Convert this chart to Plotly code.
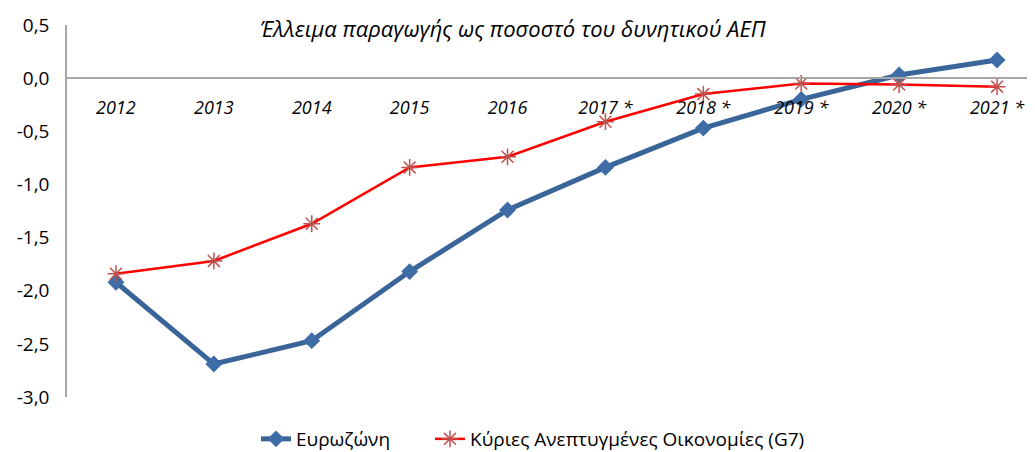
import plotly.graph_objects as go

categories = ["2012", "2013", "2014", "2015", "2016", "2017 *", "2018 *", "2019 *", "2020 *", "2021 *"]
eurozone = [-1.92, -2.69, -2.47, -1.82, -1.24, -0.84, -0.47, -0.20, 0.03, 0.17]
g7 = [-1.84, -1.72, -1.37, -0.84, -0.74, -0.41, -0.15, -0.05, -0.06, -0.08]
name_ez = "Ευρωζώνη"
name_g7 = "Κύριες Ανεπτυγμένες Οικονομίες (G7)"
title = "Έλλειμα παραγωγής ως ποσοστό του δυνητικού ΑΕΠ"
yticks = [0.5, 0.0, -0.5, -1.0, -1.5, -2.0, -2.5, -3.0]
ytick_labels = ["0,5", "0,0", "-0,5", "-1,0", "-1,5", "-2,0", "-2,5", "-3,0"]

FONT = "Open Sans"
OFF = 8  # default page body margin
W, H = 1035 - OFF, 452 - OFF
ml, mt = 67 - OFF, 25 - OFF
plot_bottom = 397 - OFF
mb, mr = H - plot_bottom, 0
ph = plot_bottom - mt
pw = W - ml - mr
ymin, ymax = -3.0, 0.5
zero_frac = (0 - ymin) / (ymax - ymin)

def px_x(xw):
    return (xw - OFF - ml) / pw

leg_y = -(439 - OFF - plot_bottom) / ph

fig = go.Figure()
fig.add_trace(go.Scatter(
    x=categories, y=eurozone, name=name_ez, mode="lines+markers",
    line=dict(color="#3A6599", width=5),
    marker=dict(symbol="diamond", size=13, color="#3E6CA6", line=dict(width=0)),
    legend="legend",
))
fig.add_trace(go.Scatter(
    x=categories, y=g7, name=name_g7, mode="lines+markers",
    line=dict(color="#FF0000", width=2.5),
    marker=dict(symbol="asterisk-open", size=14, color="#C0504D", line=dict(width=1.5, color="#C0504D")),
    legend="legend2",
))

n = len(categories)
leg_common = dict(orientation="h", xanchor="left", yanchor="middle", y=leg_y,
                  font=dict(family=FONT, size=19), bgcolor="rgba(0,0,0,0)")
fig.update_layout(
    width=W, height=H,
    margin=dict(l=ml, r=mr, t=mt, b=mb, pad=0, autoexpand=False),
    paper_bgcolor="white", plot_bgcolor="white",
    separators=",.",
    font=dict(family=FONT, size=16, color="black"),
    showlegend=True,
    legend=dict(x=px_x(256), **leg_common),
    legend2=dict(x=px_x(430), **leg_common),
    xaxis=dict(
        type="category", range=[-0.5, n - 0.5 - 11 / 98], automargin=False,
        anchor="free", position=zero_frac,
        showline=True, linecolor="#A6A6A6", linewidth=1.5,
        showgrid=False, zeroline=False, ticks="",
        tickfont=dict(family=FONT, size=18, style="italic"),
        ticklabelstandoff=14,
    ),
    yaxis=dict(
        range=[ymin, ymax], tickvals=yticks, ticktext=ytick_labels, automargin=False,
        showline=True, linecolor="#A6A6A6", linewidth=1.5,
        showgrid=False, zeroline=False, ticks="",
        tickfont=dict(family=FONT, size=19),
        ticklabelstandoff=12,
    ),
    annotations=[dict(
        text=title, xref="paper", yref="paper", x=px_x(513), y=1.0,
        xanchor="center", yanchor="middle", yshift=-3, showarrow=False,
        font=dict(family=FONT, size=22, style="italic"),
    )],
)

fig.write_html("out.html")
